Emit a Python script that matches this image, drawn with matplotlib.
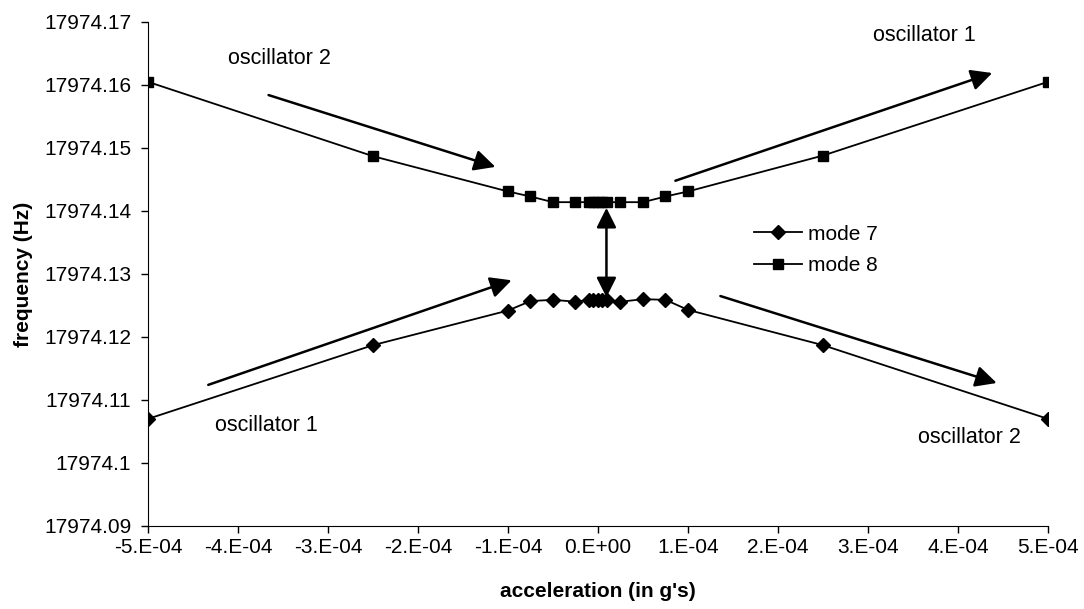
import numpy as np
import matplotlib
matplotlib.use("Agg")
import matplotlib.pyplot as plt
from matplotlib.ticker import FuncFormatter, MultipleLocator

plt.rcParams['font.family'] = ['Liberation Sans', 'DejaVu Sans']

#---Data (acceleration in g's, frequency in Hz)
accel = np.array([-5, -2.5, -1, -0.75, -0.5, -0.25, -0.1, -0.05, 0, 0.05, 0.1,
                  0.25, 0.5, 0.75, 1, 2.5, 5]) * 1e-4
mode7 = [17974.1070, 17974.1187, 17974.1242, 17974.1257, 17974.1259, 17974.1256,
         17974.1259, 17974.1258, 17974.1258, 17974.1258, 17974.1258,
         17974.1256, 17974.1260, 17974.1259, 17974.1243, 17974.1187, 17974.1070]
mode8 = [17974.1605, 17974.1487, 17974.1431, 17974.1423, 17974.1414, 17974.1414,
         17974.1414, 17974.1414, 17974.1414, 17974.1414, 17974.1414,
         17974.1414, 17974.1414, 17974.1423, 17974.1431, 17974.1488, 17974.1605]

# annotation arrows: (tail, head)
arrows = [((-3.66e-4, 17974.1584), (-1.14e-4, 17974.1470)),
          ((0.86e-4, 17974.1448), (4.38e-4, 17974.1619)),
          ((-4.33e-4, 17974.1124), (-0.96e-4, 17974.1290)),
          ((1.36e-4, 17974.1265), (4.43e-4, 17974.1127))]
gap_arrow = ((0.094e-4, 17974.1263), (0.094e-4, 17974.1405))

labels = [("oscillator 2", -4.11e-4, 17974.1642),
          ("oscillator 1", 3.05e-4, 17974.1679),
          ("oscillator 1", -4.25e-4, 17974.1060),
          ("oscillator 2", 3.55e-4, 17974.1040)]


def xfmt(v, pos):
    if abs(v) < 1e-12:
        return "0.E+00"
    e = int(np.floor(np.log10(abs(v)) + 1e-9))
    m = int(round(v / 10 ** e))
    return "%d.E%+03d" % (m, e)


def yfmt(v, pos):
    return "{:.7g}".format(round(v, 2))


fig = plt.figure(figsize=(10.84, 6.09), dpi=100)
ax = fig.add_axes([0.1365, 0.1363, 0.8303, 0.8276])

ax.plot(accel, mode7, color='k', lw=1.3, marker='D', ms=7, label='mode 7')
ax.plot(accel, mode8, color='k', lw=1.3, marker='s', ms=7.5, label='mode 8')

for tail, head in arrows:
    ax.annotate('', xy=head, xytext=tail,
                arrowprops=dict(arrowstyle='-|>', color='k', lw=1.8,
                                mutation_scale=32, shrinkA=0, shrinkB=0))
ax.annotate('', xy=gap_arrow[1], xytext=gap_arrow[0],
            arrowprops=dict(arrowstyle='<|-|>', color='k', lw=1.8,
                            mutation_scale=30, shrinkA=0, shrinkB=0))

for txt, x, y in labels:
    ax.text(x, y, txt, fontsize=15.5, ha='left', va='center')

ax.set_xlim(-5e-4, 5e-4)
ax.set_ylim(17974.09, 17974.17)
ax.xaxis.set_major_locator(MultipleLocator(1e-4))
ax.yaxis.set_major_locator(MultipleLocator(0.01))
ax.xaxis.set_major_formatter(FuncFormatter(xfmt))
ax.yaxis.set_major_formatter(FuncFormatter(yfmt))
ax.tick_params(labelsize=15, length=5, width=1, direction='out', colors='k')
ax.tick_params(axis='y', pad=7)
ax.spines['top'].set_visible(False)
ax.spines['right'].set_visible(False)

ax.set_xlabel("acceleration (in g's)", fontsize=15, fontweight='bold', labelpad=18)
ax.set_ylabel("frequency (Hz)", fontsize=15, fontweight='bold', labelpad=8)

ax.legend(loc='center left', bbox_to_anchor=(0.673, 0.548), frameon=False,
          fontsize=15, handlelength=2.3, handletextpad=0.3, labelspacing=0.6,
          borderpad=0, borderaxespad=0)

fig.savefig("out.png", dpi=100)
